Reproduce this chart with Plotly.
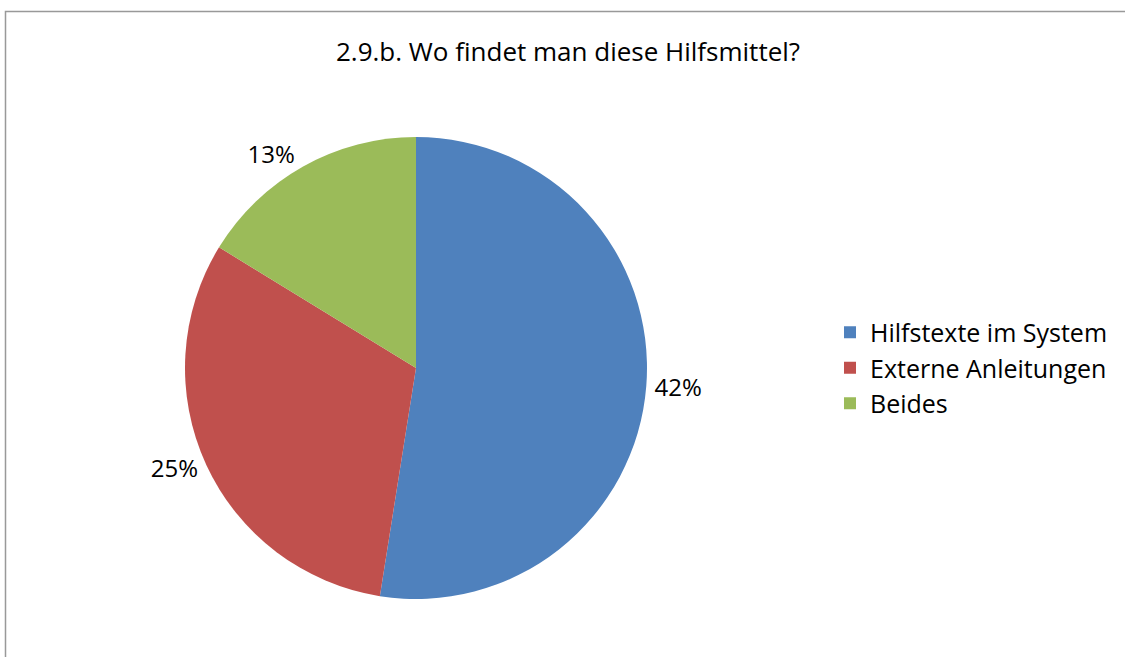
import plotly.graph_objects as go

categories = ["Hilfstexte im System", "Externe Anleitungen", "Beides"]
values = [42, 25, 13]
label_texts = ["42%", "25%", "13%"]
colors = ["#4F81BD", "#C0504D", "#9BBB59"]

W, H = 1125, 657
cx, cy, r = 416, 368, 231

fig = go.Figure(go.Pie(
    labels=categories,
    values=values,
    text=label_texts,
    textinfo="text",
    textposition="outside",
    sort=False,
    direction="clockwise",
    rotation=0,
    marker=dict(colors=colors, line=dict(width=0)),
    textfont=dict(family="Open Sans", size=24, color="#000000"),
    domain=dict(x=[(cx - r) / W, (cx + r) / W], y=[(H - cy - r) / H, (H - cy + r) / H]),
    hoverinfo="label+value",
))

fig.update_layout(
    width=W, height=H,
    margin=dict(l=0, r=0, t=0, b=0),
    paper_bgcolor="white",
    plot_bgcolor="white",
    font=dict(family="Open Sans", color="#000000"),
    title=dict(text="2.9.b. Wo findet man diese Hilfsmittel?", x=568 / W, xanchor="center",
               y=1 - 52 / H, yanchor="middle", font=dict(size=26)),
    legend=dict(x=830 / W, y=1 - 368 / H, xanchor="left", yanchor="middle",
                font=dict(size=25), itemwidth=30, tracegroupgap=0),
    shapes=[dict(type="rect", xref="paper", yref="paper",
                 x0=5.5 / W, x1=1.01, y0=-0.01, y1=1 - 11.5 / H,
                 line=dict(color="#999999", width=1.5), fillcolor="rgba(0,0,0,0)")],
)

fig.write_html("out.html", config={"displayModeBar": False},
               post_script="document.body.style.margin='0';")
